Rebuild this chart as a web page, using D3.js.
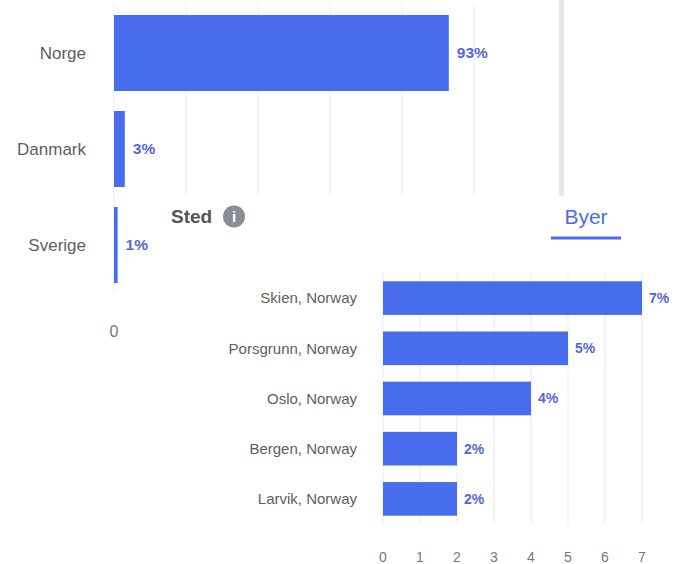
<!DOCTYPE html>
<html>
<head>
<meta charset="utf-8">
<script src="https://cdn.jsdelivr.net/npm/d3@7"></script>
<style>
  html, body { margin: 0; padding: 0; background: #fff; }
  svg { display: block; font-family: "Liberation Sans", Arial, sans-serif; }
</style>
</head>
<body>
<svg id="chart" width="684" height="564"></svg>
<script>
// Country share (percent)
const countries = ["Norge", "Danmark", "Sverige"];
const countryValues = [93, 3, 1];
const countryTicks = [0, 20, 40, 60, 80, 100];

// City share (percent)
const cities = ["Skien, Norway", "Porsgrunn, Norway", "Oslo, Norway", "Bergen, Norway", "Larvik, Norway"];
const cityValues = [7, 5, 4, 2, 2];
const cityTicks = [0, 1, 2, 3, 4, 5, 6, 7];

const BAR = "#476cee";
const VALUE = "#5568d8";
const GRID = "#ebebf0";
const LABEL = "#5e5e5e";
const TICK = "#777";

const svg = d3.select("#chart");

// ---- Countries panel (behind) ----
const back = svg.append("g");
const x1 = d3.scaleLinear().domain([0, 100]).range([114, 474]);
const y1 = d3.scaleBand().domain(countries).range([5, 293]).paddingInner(0.208).paddingOuter(0.104);

back.append("g").selectAll("line").data(countryTicks).join("line")
  .attr("x1", d => x1(d)).attr("x2", d => x1(d))
  .attr("y1", 5).attr("y2", 293)
  .attr("stroke", GRID).attr("stroke-width", 1);

// scroll divider
back.append("rect").attr("x", 559).attr("y", 0).attr("width", 5).attr("height", 200).attr("fill", "#e6e7ec");

back.append("g").selectAll("rect").data(countries).join("rect")
  .attr("x", x1(0)).attr("y", d => y1(d))
  .attr("width", (d, i) => x1(countryValues[i]) - x1(0))
  .attr("height", y1.bandwidth())
  .attr("fill", BAR);

back.append("g").selectAll("text").data(countries).join("text")
  .attr("x", 86).attr("y", d => y1(d) + y1.bandwidth() / 2)
  .attr("dy", "0.35em").attr("text-anchor", "end")
  .attr("font-size", 17).attr("fill", LABEL)
  .text(d => d);

back.append("g").selectAll("text").data(countries).join("text")
  .attr("x", (d, i) => x1(countryValues[i]) + 8)
  .attr("y", d => y1(d) + y1.bandwidth() / 2)
  .attr("dy", "0.35em")
  .attr("font-size", 15.5).attr("font-weight", "bold").attr("fill", VALUE)
  .text((d, i) => countryValues[i] + "%");

back.append("g").selectAll("text").data(countryTicks).join("text")
  .attr("x", d => x1(d)).attr("y", 337)
  .attr("text-anchor", "middle").attr("font-size", 16).attr("fill", TICK)
  .text(d => d);

// ---- Cities panel (front) ----
const front = svg.append("g");
front.append("rect").attr("x", 150).attr("y", 196).attr("width", 534).attr("height", 368).attr("fill", "#fff");

front.append("text").attr("x", 171).attr("y", 223)
  .attr("font-size", 19).attr("font-weight", "bold").attr("fill", "#555")
  .text("Sted");
front.append("circle").attr("cx", 234).attr("cy", 216.5).attr("r", 11).attr("fill", "#8a8d93");
front.append("text").attr("x", 234).attr("y", 216.5).attr("dy", "0.36em")
  .attr("text-anchor", "middle").attr("font-size", 15).attr("font-weight", "bold").attr("fill", "#fff")
  .text("i");

front.append("text").attr("x", 586).attr("y", 224)
  .attr("text-anchor", "middle").attr("font-size", 21).attr("fill", "#4a6cf0")
  .text("Byer");
front.append("rect").attr("x", 551).attr("y", 236.5).attr("width", 70).attr("height", 3).attr("fill", "#4a6cf0");

const x2 = d3.scaleLinear().domain([0, 7]).range([383, 642]);
const y2 = d3.scaleBand().domain(cities).range([273, 524]).paddingInner(0.33).paddingOuter(0.165);

front.append("g").selectAll("line").data(cityTicks).join("line")
  .attr("x1", d => x2(d)).attr("x2", d => x2(d))
  .attr("y1", 273).attr("y2", 524)
  .attr("stroke", GRID).attr("stroke-width", 1);

front.append("g").selectAll("rect").data(cities).join("rect")
  .attr("x", x2(0)).attr("y", d => y2(d))
  .attr("width", (d, i) => x2(cityValues[i]) - x2(0))
  .attr("height", y2.bandwidth())
  .attr("fill", BAR);

front.append("g").selectAll("text").data(cities).join("text")
  .attr("x", 357).attr("y", d => y2(d) + y2.bandwidth() / 2)
  .attr("dy", "0.35em").attr("text-anchor", "end")
  .attr("font-size", 15).attr("fill", LABEL)
  .text(d => d);

front.append("g").selectAll("text").data(cities).join("text")
  .attr("x", (d, i) => x2(cityValues[i]) + 7)
  .attr("y", d => y2(d) + y2.bandwidth() / 2)
  .attr("dy", "0.35em")
  .attr("font-size", 14).attr("font-weight", "bold").attr("fill", VALUE)
  .text((d, i) => cityValues[i] + "%");

front.append("g").selectAll("text").data(cityTicks).join("text")
  .attr("x", d => x2(d)).attr("y", 562)
  .attr("text-anchor", "middle").attr("font-size", 14).attr("fill", TICK)
  .text(d => d);
</script>
</body>
</html>
